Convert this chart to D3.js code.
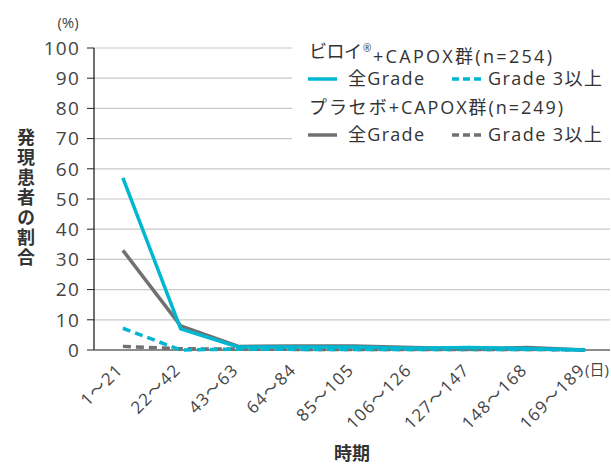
<!DOCTYPE html>
<html><head><meta charset="utf-8">
<script src="https://cdn.jsdelivr.net/npm/d3@7"></script>
<style>
body{margin:0;background:#fff;}
svg{font-family:"Open Sans","Noto Sans CJK JP","Noto Sans",sans-serif;}
</style></head>
<body><svg id="c" width="611" height="464"></svg>
<script>
const categories = ["1〜21","22〜42","43〜63","64〜84","85〜105","106〜126","127〜147","148〜168","169〜189"];
const vyloyAll = [57, 7, 1, 1, 1, 0.6, 0.8, 0.5, 0];
const vyloyG3 = [7.2, 0, 0.3, 0.2, 0.2, 0.2, 0.2, 0.2, 0];
const placeboAll = [33, 8, 1.2, 1.3, 1.3, 0.8, 0.4, 0.8, 0];
const placeboG3 = [1.2, 0.4, 0.3, 0.2, 0.2, 0.2, 0.2, 0.2, 0];
const yTicks = [0,10,20,30,40,50,60,70,80,90,100];

const CYAN = "#00b6d0", GRAY = "#707070", TXT = "#333";
const svg = d3.select("#c");
const x = d3.scalePoint().domain(categories).range([94, 614]).padding(0.5);
const y = d3.scaleLinear().domain([0,100]).range([350, 48]);
const L = 94, R = 610;

// gridlines
svg.append("g").selectAll("line").data(yTicks.filter(d=>d>0)).join("line")
  .attr("x1", L).attr("x2", R).attr("y1", d=>y(d)).attr("y2", d=>y(d))
  .attr("stroke", "#c8c8c8").attr("stroke-width", 1.2);

// legend background
svg.append("rect").attr("x", 292).attr("y", 34).attr("width", 319).attr("height", 118).attr("fill", "#fff");

// y ticks and labels
const ya = svg.append("g");
ya.selectAll("line").data(yTicks).join("line")
  .attr("x1", 87).attr("x2", L).attr("y1", d=>y(d)).attr("y2", d=>y(d))
  .attr("stroke", "#222").attr("stroke-width", 1);
ya.selectAll("text").data(yTicks).join("text")
  .attr("x", 80).attr("y", d=>y(d)).attr("dy", "0.36em")
  .attr("text-anchor", "end").attr("font-size", 19).attr("letter-spacing", 1.2)
  .attr("fill", "#444").text(d=>d);
svg.append("line").attr("x1", L).attr("x2", L).attr("y1", y(100)).attr("y2", y(0))
  .attr("stroke", "#222").attr("stroke-width", 1.3);
// baseline
svg.append("line").attr("x1", L).attr("x2", R).attr("y1", y(0)).attr("y2", y(0))
  .attr("stroke", "#666").attr("stroke-width", 1.5);

svg.append("text").attr("x", 68).attr("y", 23).attr("dy", "0.36em").attr("text-anchor", "middle")
  .attr("font-size", 15).attr("fill", "#444").text("(%)");

// x labels
svg.append("g").selectAll("text").data(categories).join("text")
  .attr("transform", d=>`translate(${x(d)+1},${371}) rotate(-45)`)
  .attr("text-anchor", "end").attr("letter-spacing", 1.2)
  .attr("font-size", 17).attr("fill", "#444").text(d=>d);
svg.append("text").attr("x", 597).attr("y", 370).attr("dy", "0.36em").attr("text-anchor", "middle")
  .attr("font-size", 15).attr("fill", "#444").text("(日)");

// axis titles
svg.append("text").attr("x", 25).attr("y", 198)
  .attr("writing-mode", "tb").attr("text-anchor", "middle")
  .attr("letter-spacing", 2).attr("font-size", 18).attr("font-weight", "bold")
  .attr("fill", TXT).text("発現患者の割合");
svg.append("text").attr("x", 352).attr("y", 454).attr("dy", "0.36em").attr("text-anchor", "middle")
  .attr("font-size", 18).attr("font-weight", "bold").attr("fill", TXT).text("時期");

// lines
const line = d3.line().x((d,i)=>x(categories[i])).y(d=>y(d));
const series = [
  {v: placeboG3, c: GRAY, dash: "8,5"},
  {v: vyloyG3, c: CYAN, dash: "8,5"},
  {v: placeboAll, c: GRAY, dash: null},
  {v: vyloyAll, c: CYAN, dash: null}
];
svg.append("g").selectAll("path").data(series).join("path")
  .attr("d", d=>line(d.v)).attr("fill", "none").attr("stroke", d=>d.c)
  .attr("stroke-width", 3.5).attr("stroke-dasharray", d=>d.dash)
  .attr("stroke-linejoin", "round");

// legend
const lg = svg.append("g").attr("font-size", 18).attr("fill", TXT);
const t1 = lg.append("text").attr("x", 309).attr("y", 52).attr("dy", "0.36em");
t1.append("tspan").attr("textLength", 53).attr("lengthAdjust", "spacing").text("ビロイ");
t1.append("tspan").attr("x", 363).attr("font-size", 10).attr("dy", "-0.6em").text("®");
t1.append("tspan").attr("dy", "0.6em").attr("x", 373)
  .attr("textLength", 179).attr("lengthAdjust", "spacing").text("+CAPOX群(n=254)");
lg.append("text").attr("x", 309).attr("y", 108).attr("dy", "0.36em")
  .attr("textLength", 254).attr("lengthAdjust", "spacing").text("プラセボ+CAPOX群(n=249)");
const rows = [{yy: 79, c: CYAN}, {yy: 135, c: GRAY}];
rows.forEach(r=>{
  lg.append("line").attr("x1", 308).attr("x2", 337).attr("y1", r.yy).attr("y2", r.yy)
    .attr("stroke", r.c).attr("stroke-width", 3.5);
  lg.append("text").attr("x", 348).attr("y", r.yy).attr("dy", "0.36em")
    .attr("textLength", 76).attr("lengthAdjust", "spacing").text("全Grade");
  lg.append("line").attr("x1", 452).attr("x2", 482).attr("y1", r.yy).attr("y2", r.yy)
    .attr("stroke", r.c).attr("stroke-width", 3.5).attr("stroke-dasharray", "7,4");
  lg.append("text").attr("x", 488).attr("y", r.yy).attr("dy", "0.36em")
    .attr("textLength", 114).attr("lengthAdjust", "spacing").text("Grade 3以上");
});
</script></body></html>
